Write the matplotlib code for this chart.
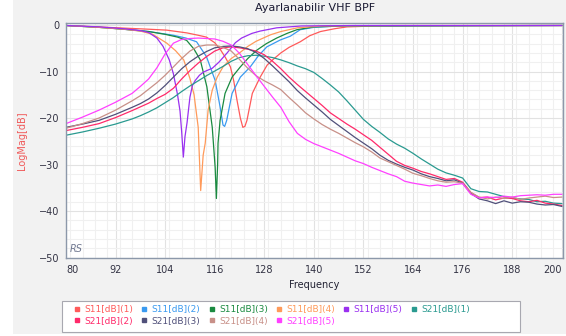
import matplotlib
matplotlib.use("Agg")
import matplotlib.pyplot as plt
from matplotlib.lines import Line2D
from matplotlib.patches import Rectangle
from matplotlib.ticker import MultipleLocator

# ---- data ----
# S11 curves, one frequency list per curve (notches need denser points)
s11_1_f = [80, 90, 100, 104.4, 109.3, 112, 114, 116, 117.3, 118.6, 119.8, 120.6, 121.4, 122.2,
           122.8, 123.3, 123.8, 125.1, 127, 128.7, 130, 132, 134, 136.7, 139, 141.6, 145, 148, 155, 200]
s11_1_db = [-0.1, -0.5, -0.9, -1.1, -1.7, -2.2, -2.6, -3.8, -5.2, -7.0, -9.0, -12.0, -16.2, -20.0,
            -22.0, -21.8, -20.5, -14.7, -11.2, -8.6, -7.5, -6.0, -4.8, -3.6, -2.3, -1.4, -0.8, -0.4, -0.2, -0.1]

s11_2_f = [80, 90, 100, 106, 109, 111.6, 114, 114.9, 116.1, 117.3, 118, 118.4, 118.9, 120.2,
           122.2, 124.6, 126.5, 128.6, 131.9, 134.3, 136.7, 140, 146, 200]
s11_2_db = [-0.1, -0.6, -1.4, -2.2, -2.8, -3.6, -6.8, -9.0, -11.9, -17.6, -21.5, -21.8, -20.5, -14.7,
            -11.2, -9.0, -6.7, -4.7, -3.2, -2.4, -1.0, -0.5, -0.2, -0.1]

s11_3_f = [80, 88, 94, 100, 104, 107, 109.2, 111, 112.5, 114.1, 115.4, 116.1, 116.4, 116.7, 116.8,
           117.3, 118.5, 120.2, 122.2, 124, 126.2, 128.5, 131, 133.5, 135.9, 140, 148, 200]
s11_3_db = [-0.1, -0.5, -0.9, -1.4, -2.0, -2.6, -3.3, -5.2, -7.5, -13.3, -22.0, -30.6, -37.3, -30.0, -25.4,
            -20.5, -14.7, -11.2, -9.0, -7.2, -5.4, -4.0, -2.8, -1.8, -1.0, -0.4, -0.2, -0.1]

s11_4_f = [80, 88, 94, 98, 101, 104.4, 106.5, 108.5, 110, 111, 112, 112.6, 113.2, 113.7, 114.4,
           115.4, 116.6, 118, 120, 122, 124, 126, 129.5, 132, 136, 142, 160, 200]
s11_4_db = [-0.1, -0.5, -0.9, -1.3, -2.0, -3.9, -5.5, -7.5, -11.5, -15.0, -22.0, -35.6, -28.0, -25.4, -18.3,
            -14.0, -11.2, -9.0, -7.2, -6.0, -4.6, -3.5, -2.1, -1.4, -0.6, -0.2, -0.1, -0.1]

s11_5_f = [80, 88, 94, 98, 100, 102, 103.5, 105, 106, 107, 107.6, 108, 108.4, 108.8, 109.3, 110,
           110.6, 111.3, 112.3, 113.3, 115.4, 117, 119, 121, 122.5, 125, 127, 131, 137, 150, 200]
s11_5_db = [-0.1, -0.4, -0.8, -1.2, -1.6, -2.8, -4.6, -7.5, -10.5, -15.0, -18.5, -23.0, -28.4, -24.0, -21.0, -15.5,
            -13.0, -11.9, -10.8, -10.1, -9.3, -8.0, -6.0, -3.8, -2.8, -1.8, -1.3, -0.6, -0.2, -0.1, -0.1]

# S21 curves share one frequency list
s21_f = [80, 84, 88, 92] + list(range(96, 201, 2))
s21_1_db = [-23.7, -23.0, -22.2, -21.3, -20.2, -19.5, -18.7, -17.8, -16.7, -15.6,
            -14.3, -13.1, -12.0, -10.9, -9.9, -8.9, -7.8, -7.0, -6.6, -6.5,
            -6.7, -7.0, -7.5, -8.1, -8.8, -9.4, -10.2, -11.5, -12.9, -14.4,
            -16.3, -18.3, -20.3, -21.8, -23.1, -24.5, -25.6, -26.5, -27.6, -28.8,
            -29.9, -31.0, -31.8, -32.3, -32.9, -35.2, -35.8, -35.9, -36.4, -36.9,
            -37.2, -37.4, -37.5, -38.0, -37.9, -38.3, -38.4]
s21_2_db = [-22.7, -22.0, -21.2, -19.9, -18.4, -17.6, -16.8, -15.8, -14.9, -13.6,
            -11.6, -9.8, -8.2, -6.8, -5.6, -4.9, -4.7, -4.9, -5.2, -5.6,
            -6.4, -7.8, -9.4, -11.2, -12.8, -14.3, -15.8, -17.3, -18.9, -20.1,
            -21.3, -22.4, -23.6, -24.8, -26.3, -27.8, -29.3, -30.2, -30.8, -31.5,
            -32.0, -32.6, -33.2, -33.0, -33.8, -36.0, -37.1, -37.0, -37.6, -37.2,
            -37.3, -37.8, -38.0, -37.7, -38.3, -38.5, -38.8]
s21_3_db = [-22.0, -21.3, -20.5, -19.2, -17.7, -16.9, -15.9, -14.6, -13.0, -11.2,
            -9.4, -7.9, -6.7, -5.7, -4.9, -4.6, -4.5, -4.7, -5.1, -5.9,
            -7.2, -8.8, -10.5, -12.2, -14.1, -15.7, -17.2, -18.7, -20.3, -21.6,
            -22.9, -24.2, -25.4, -26.6, -28.0, -29.1, -29.9, -30.6, -31.2, -32.0,
            -32.6, -33.0, -33.5, -33.3, -34.0, -36.2, -37.4, -37.8, -38.4, -37.8,
            -38.3, -38.0, -38.1, -38.5, -38.7, -38.6, -39.0]
s21_4_db = [-22.2, -21.2, -20.0, -18.3, -16.3, -15.2, -13.8, -12.4, -10.8, -9.0,
            -7.2, -5.6, -4.6, -4.3, -4.3, -4.8, -5.6, -7.4, -9.3, -10.9,
            -12.0, -12.9, -13.9, -15.6, -17.2, -18.9, -20.2, -21.4, -22.4, -23.3,
            -24.3, -25.3, -26.2, -27.3, -28.6, -29.4, -30.2, -31.0, -31.9, -32.4,
            -33.0, -33.5, -33.8, -33.7, -34.0, -36.0, -37.0, -37.4, -37.0, -37.3,
            -37.0, -37.5, -37.2, -37.0, -36.8, -37.1, -37.0]
s21_5_db = [-21.2, -19.8, -18.3, -16.6, -14.7, -13.2, -11.6, -9.2, -6.2, -3.9,
            -3.1, -2.9, -2.8, -2.9, -3.0, -3.5, -4.3, -6.1, -8.5, -10.9,
            -13.2, -15.5, -17.7, -20.8, -23.3, -24.6, -25.5, -26.2, -26.9, -27.6,
            -28.4, -29.2, -29.8, -30.6, -31.3, -32.0, -32.6, -33.6, -34.0, -34.3,
            -34.6, -34.4, -34.7, -34.3, -34.1, -36.4, -37.2, -37.0, -37.1, -36.8,
            -37.0, -36.7, -36.6, -36.5, -36.6, -36.4, -36.4]

labels = ["S11[dB](1)", "S11[dB](2)", "S11[dB](3)", "S11[dB](4)", "S11[dB](5)",
          "S21[dB](1)", "S21[dB](2)", "S21[dB](3)", "S21[dB](4)", "S21[dB](5)"]
colors = ["#ff5a5a", "#3a9af0", "#1a8a40", "#ff9a5a", "#9a30f0",
          "#2a9a90", "#ff2a6a", "#50507a", "#c89088", "#ff40ff"]
xticks = [80, 92, 104, 116, 128, 140, 152, 164, 176, 188, 200]

series = [(s11_1_f, s11_1_db), (s11_2_f, s11_2_db), (s11_3_f, s11_3_db),
          (s11_4_f, s11_4_db), (s11_5_f, s11_5_db),
          (s21_f, s21_1_db), (s21_f, s21_2_db), (s21_f, s21_3_db),
          (s21_f, s21_4_db), (s21_f, s21_5_db)]

W, H = 566, 336
fig = plt.figure(figsize=(W / 100, H / 100), dpi=100, facecolor="white")
fig.patches.append(Rectangle((13 / W, 2 / H), 1 - 13 / W, 1 - 2 / H, transform=fig.transFigure,
                             facecolor="#f2f2f2", edgecolor="none", zorder=-10))

ax = fig.add_axes([66 / W, 1 - 258 / H, (563 - 66) / W, (258 - 22.7) / H])
ax.set_facecolor("white")

for (f, db), c in zip(series, colors):
    ax.plot(f, db, color=c, lw=0.9)

ax.set_xlim(80, 200.3)
ax.set_ylim(-50.1, 0.5)
ax.set_xticks(xticks)
ax.set_yticks([0, -10, -20, -30, -40, -50])
ax.xaxis.set_minor_locator(MultipleLocator(3))
ax.yaxis.set_minor_locator(MultipleLocator(2))
ax.grid(which="major", color="#e2e2e2", lw=0.8)
ax.grid(which="minor", color="#f0f0f0", lw=0.8)
ax.set_axisbelow(True)
ax.tick_params(which="both", length=0, labelsize=7, colors="#333344", pad=5)
xl = ax.get_xticklabels()
xl[0].set_ha("left")
xl[-1].set_ha("right")
for s in ax.spines.values():
    s.set_color("#8c98aa")
    s.set_linewidth(1)

ax.set_xlabel("Frequency", fontsize=7, color="#222233", labelpad=4)
ax.set_ylabel("LogMag[dB]", fontsize=7, color="#f05a5a", labelpad=8)
ax.text(0.008, 0.015, "RS", transform=ax.transAxes, fontsize=7, style="italic",
        color="#707890", ha="left", va="bottom")
fig.text(315 / W, 1 - 8 / H, "Ayarlanabilir VHF BPF", fontsize=8, color="#1a1a33",
         ha="center", va="center")

# legend: box drawn by hand, entries ordered so rows read like the reference
fig.patches.append(Rectangle((62 / W, 1 - 332 / H), (520 - 62) / W, (332 - 301) / H,
                             transform=fig.transFigure, facecolor="white",
                             edgecolor="#a8a8b0", lw=0.8, zorder=1))
handles = [Line2D([], [], color=c, marker="s", ls="none", markersize=3.5) for c in colors]
order = [0, 6, 1, 7, 2, 8, 3, 9, 4, 5]
leg = fig.legend([handles[i] for i in order], [labels[i] for i in order],
                 loc="upper left", bbox_to_anchor=(68 / W, 1 - 299 / H), ncol=6,
                 frameon=False, fontsize=6.5, handlelength=0.6, handletextpad=0.5,
                 columnspacing=0.95, labelspacing=0.25, borderpad=0.2,
                 labelcolor="linecolor")
leg.set_zorder(2)

fig.savefig("out.png", dpi=100, facecolor=fig.get_facecolor())
